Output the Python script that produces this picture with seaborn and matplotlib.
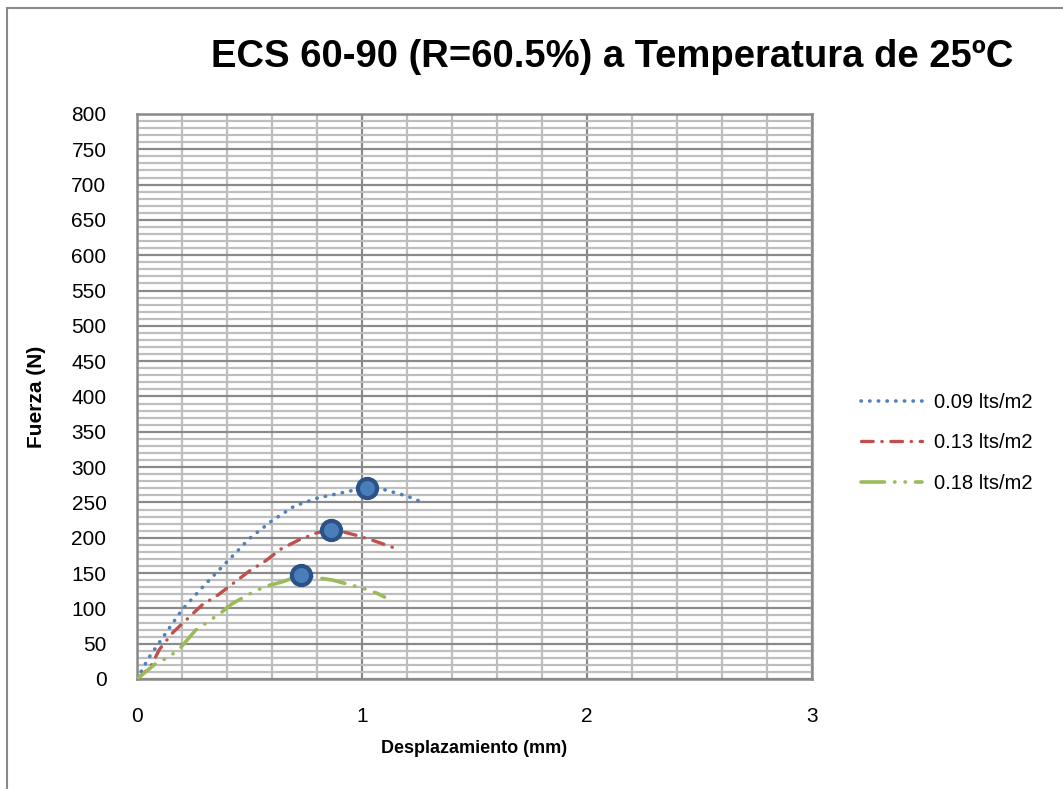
import matplotlib
matplotlib.use("Agg")
import matplotlib.pyplot as plt
import seaborn as sns
import numpy as np
from matplotlib.ticker import MultipleLocator
from matplotlib.lines import Line2D
from matplotlib.patches import Rectangle

# ---- data ----
blue_x = [0, 0.05, 0.1, 0.15, 0.2, 0.3, 0.4, 0.5, 0.6, 0.7, 0.8, 0.9, 1.02, 1.1, 1.2, 1.27]
blue_y = [0, 29, 52, 75, 98, 133, 166, 199, 224, 245, 256, 263, 271, 268, 259, 250]

red_x = [0, 0.06, 0.1, 0.16, 0.22, 0.29, 0.36, 0.43, 0.5, 0.57, 0.64, 0.72, 0.8, 0.86, 0.92, 0.98, 1.06, 1.14]
red_y = [0, 17, 42, 66, 84, 105, 119, 136, 153, 167, 184, 197, 207, 211, 208, 203, 195, 186]

green_x = [0, 0.08, 0.14, 0.19, 0.26, 0.37, 0.42, 0.52, 0.58, 0.64, 0.73, 0.81, 0.87, 0.94, 1.0, 1.07, 1.1]
green_y = [0, 21, 31, 43, 69, 93, 106, 124, 132, 137, 147, 143, 140, 134, 129, 121, 116]

peak_x = [1.02, 0.86, 0.73]
peak_y = [271, 211, 147]

labels = ["0.09 lts/m2", "0.13 lts/m2", "0.18 lts/m2"]
colors = ["#4F81BD", "#C0504D", "#9BBB59"]

title = "ECS 60-90 (R=60.5%) a Temperatura de 25ºC"
xlabel = "Desplazamiento (mm)"
ylabel = "Fuerza (N)"

sns.set_theme(style="white")
plt.rcParams["font.family"] = ["Liberation Sans", "DejaVu Sans"]
plt.rcParams["text.color"] = "black"
plt.rcParams["axes.labelcolor"] = "black"

fig = plt.figure(figsize=(10.63, 7.89), dpi=100)
ax = fig.add_axes([137/1063, 1-679/789, (812-137)/1063, (679-114)/789])

styles = [
    dict(linestyle=(0, (0.1, 2.3)), linewidth=2.6, dash_capstyle="round"),
    dict(linestyle=(0, (3.5, 2.6, 0.1, 2.6)), linewidth=2.4, dash_capstyle="round"),
    dict(linestyle=(0, (6.5, 2.8, 0.1, 2.8, 0.1, 2.8)), linewidth=2.6, dash_capstyle="round"),
]
series = [(blue_x, blue_y), (red_x, red_y), (green_x, green_y)]
for (xs, ys), c, st in zip(series, colors, styles):
    sns.lineplot(x=xs, y=ys, ax=ax, color=c, sort=False, estimator=None, zorder=3, **st)

sns.scatterplot(x=peak_x, y=peak_y, ax=ax, s=190, color="#4A7EBB", edgecolor="#2A5286",
                linewidth=3, zorder=5, legend=False)

if ax.get_legend() is not None:
    ax.get_legend().remove()

ax.set_xlim(0, 3)
ax.set_ylim(0, 800)
ax.xaxis.set_major_locator(MultipleLocator(1))
ax.xaxis.set_minor_locator(MultipleLocator(0.2))
ax.yaxis.set_major_locator(MultipleLocator(50))
ax.yaxis.set_minor_locator(MultipleLocator(10))
ax.grid(which="minor", color="#BEBEBE", linewidth=1.6, zorder=0)
ax.grid(which="major", color="#8A8A8A", linewidth=1.6, zorder=0)
ax.set_axisbelow(True)
for sp in ax.spines.values():
    sp.set_color("#8A8A8A")
    sp.set_linewidth(1.8)
ax.tick_params(axis="both", which="both", length=0, labelsize=15, colors="black")
ax.tick_params(axis="x", pad=20)
ax.tick_params(axis="y", pad=22)

ax.set_xlabel(xlabel, fontsize=13, fontweight="bold", labelpad=10)
ax.set_ylabel(ylabel, fontsize=15, fontweight="bold", labelpad=18)

fig.text(612/1063, 1-57/789, title, ha="center", va="center", fontsize=27.5, fontweight="bold",
         color="black")

handles = [Line2D([0], [0], color=c, **st) for c, st in zip(colors, styles)]
fig.legend(handles, labels, loc="center left", bbox_to_anchor=(843/1063, 1-443/789),
           frameon=False, fontsize=14.5, handlelength=3.0, handletextpad=0.6, labelspacing=1.05)

# outer chart frame
fig.add_artist(Rectangle((7/1063, -0.05), 1.2, 1-8/789+0.05, transform=fig.transFigure,
                         fill=False, edgecolor="#8A8A8A", linewidth=1.5))

fig.savefig("out.png", dpi=100, facecolor="white")
